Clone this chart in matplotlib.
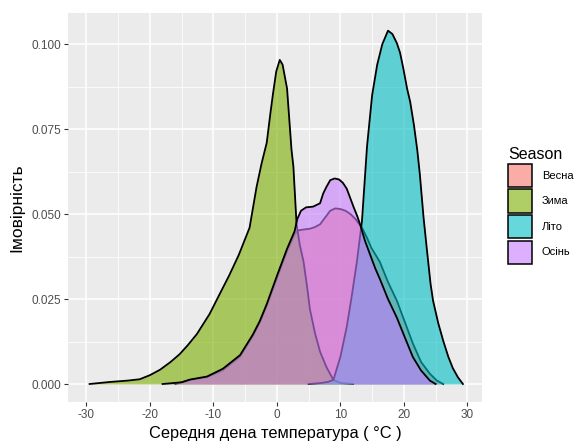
import matplotlib
matplotlib.use('Agg')
import matplotlib.pyplot as plt
from matplotlib.patches import Patch
from matplotlib.colors import to_rgba

plt.rcParams['font.family'] = ['Liberation Sans', 'DejaVu Sans']
plt.rcParams['axes.unicode_minus'] = False

seasons = ['Весна', 'Зима', 'Літо', 'Осінь']
colors = ['#F8766D', '#7CAE00', '#00BFC4', '#C77CFF']

# густини
x_spring = [-16, -13.7, -11, -8.5, -5.8, -3.8, -2.7, -1.6, 0, 1.6, 2.8, 3.3, 4.3, 5.2, 6.0, 6.8,
            7.6, 8.4, 9.2, 10.0, 10.8, 11.6, 12.4, 13.4, 14.2, 14.9, 16.2, 17.5, 18.9, 20.2,
            21.4, 22.7, 24.1, 25.2, 26.2]
y_spring = [0, 0.0012, 0.002, 0.004, 0.008, 0.014, 0.018, 0.023, 0.031, 0.039, 0.044, 0.0452,
            0.0455, 0.0457, 0.0462, 0.047, 0.049, 0.051, 0.0517, 0.0515, 0.051, 0.050, 0.0485,
            0.046, 0.043, 0.040, 0.036, 0.030, 0.0245, 0.018, 0.012, 0.0065, 0.003, 0.001, 0]

x_winter = [-29.5, -26.3, -23.5, -21.6, -20.0, -18.4, -16.8, -15.3, -14.0, -12.6, -10.6, -9.0,
            -7.5, -6.0, -4.3, -3.2, -2.4, -1.6, -1.0, -0.6, -0.1, 0.45, 0.9, 1.6, 2.3, 2.6, 3.1,
            3.6, 4.2, 4.8, 5.2, 6.0, 6.8, 7.8, 8.9, 10.0, 12.0]
y_winter = [0, 0.0006, 0.001, 0.0014, 0.0026, 0.0042, 0.0064, 0.0088, 0.0115, 0.0147, 0.0206,
            0.0265, 0.032, 0.038, 0.046, 0.058, 0.065, 0.071, 0.080, 0.0856, 0.092, 0.0954,
            0.094, 0.087, 0.069, 0.064, 0.047, 0.041, 0.036, 0.028, 0.022, 0.015, 0.0095,
            0.005, 0.0012, 0.0003, 0]

x_summer = [5.0, 7.0, 8.0, 8.9, 10.0, 11.0, 11.8, 12.6, 13.4, 14.2, 15.0, 15.8, 16.6, 17.5,
            18.2, 18.9, 19.4, 19.9, 20.5, 21.0, 21.6, 22.1, 22.5, 23.1, 23.6, 24.2, 24.6, 25.4,
            26.2, 27.0, 27.7, 28.5, 29.3]
y_summer = [0, 0.0003, 0.0006, 0.0012, 0.008, 0.0168, 0.026, 0.036, 0.048, 0.070, 0.085, 0.094,
            0.100, 0.104, 0.103, 0.1003, 0.0975, 0.093, 0.087, 0.083, 0.076, 0.069, 0.062,
            0.049, 0.040, 0.0295, 0.0245, 0.018, 0.0127, 0.008, 0.0047, 0.002, 0]

x_autumn = [-18, -15, -13.7, -11, -8.5, -5.8, -3.8, -2.7, -1.6, 0, 1.6, 2.8, 3.2, 3.8, 4.6, 5.7,
            6.8, 7.3, 7.8, 8.4, 9.1, 9.8, 10.4, 11.0, 11.5, 12.1, 12.6, 13.1, 13.9, 14.7, 15.5,
            16.2, 17.5, 18.9, 20.2, 21.4, 22.7, 24.1, 25.0]
y_autumn = [0, 0.0005, 0.0013, 0.0022, 0.0045, 0.0085, 0.0145, 0.0185, 0.0235, 0.0318, 0.0398,
            0.045, 0.0485, 0.051, 0.052, 0.0522, 0.0532, 0.0561, 0.058, 0.060, 0.0605, 0.0602,
            0.0592, 0.0575, 0.055, 0.052, 0.0497, 0.047, 0.042, 0.038, 0.034, 0.031, 0.025,
            0.0195, 0.0135, 0.008, 0.004, 0.001, 0]

series = [(x_spring, y_spring), (x_winter, y_winter), (x_summer, y_summer), (x_autumn, y_autumn)]

fig = plt.figure(figsize=(5.85, 4.41), dpi=100)
ax = fig.add_axes([0.1162, 0.0884, 0.7077, 0.8821])
ax.set_facecolor('#EBEBEB')
for s in ax.spines.values():
    s.set_visible(False)

for i, ((xs, ys), c) in enumerate(zip(series, colors)):
    ax.fill_between(xs, ys, 0, color=c, alpha=0.6, lw=0, zorder=3 + 2 * i)
    ax.plot(xs, ys, color='black', lw=1.3, zorder=4 + 2 * i)

ax.set_xlim(-32.9, 32.3)
ax.set_ylim(-0.0053, 0.1092)
ax.set_xticks([-30, -20, -10, 0, 10, 20, 30])
ax.set_yticks([0, 0.025, 0.05, 0.075, 0.1])
ax.set_yticklabels(['0.000', '0.025', '0.050', '0.075', '0.100'])
ax.set_xticks([-25, -15, -5, 5, 15, 25], minor=True)
ax.set_yticks([0.0125, 0.0375, 0.0625, 0.0875], minor=True)
ax.grid(which='major', color='white', lw=1.1, zorder=0)
ax.grid(which='minor', color='white', lw=0.55, zorder=0)
ax.set_axisbelow(True)
ax.tick_params(which='major', length=3, color='#333333', labelcolor='#4D4D4D', labelsize=8.5, pad=2)
ax.tick_params(which='minor', length=0)

ax.set_xlabel('Середня дена температура ( °C )', fontsize=11.8)
ax.set_ylabel('Імовірність', fontsize=12.5)
ax.xaxis.set_label_coords(0.5, -0.062)
ax.yaxis.set_label_coords(-0.105, 0.5)

handles = [Patch(facecolor=to_rgba(c, 0.6), edgecolor='black', lw=1.1) for c in colors]
fig.legend(handles=handles, labels=seasons, title='Season', loc='upper left',
           bbox_to_anchor=(0.852, 0.69), frameon=False, fontsize=8, title_fontsize=11.5,
           handlelength=2.1, handleheight=2.85, labelspacing=0.2, handletextpad=0.9,
           alignment='left')

fig.savefig('out.png', dpi=100)
